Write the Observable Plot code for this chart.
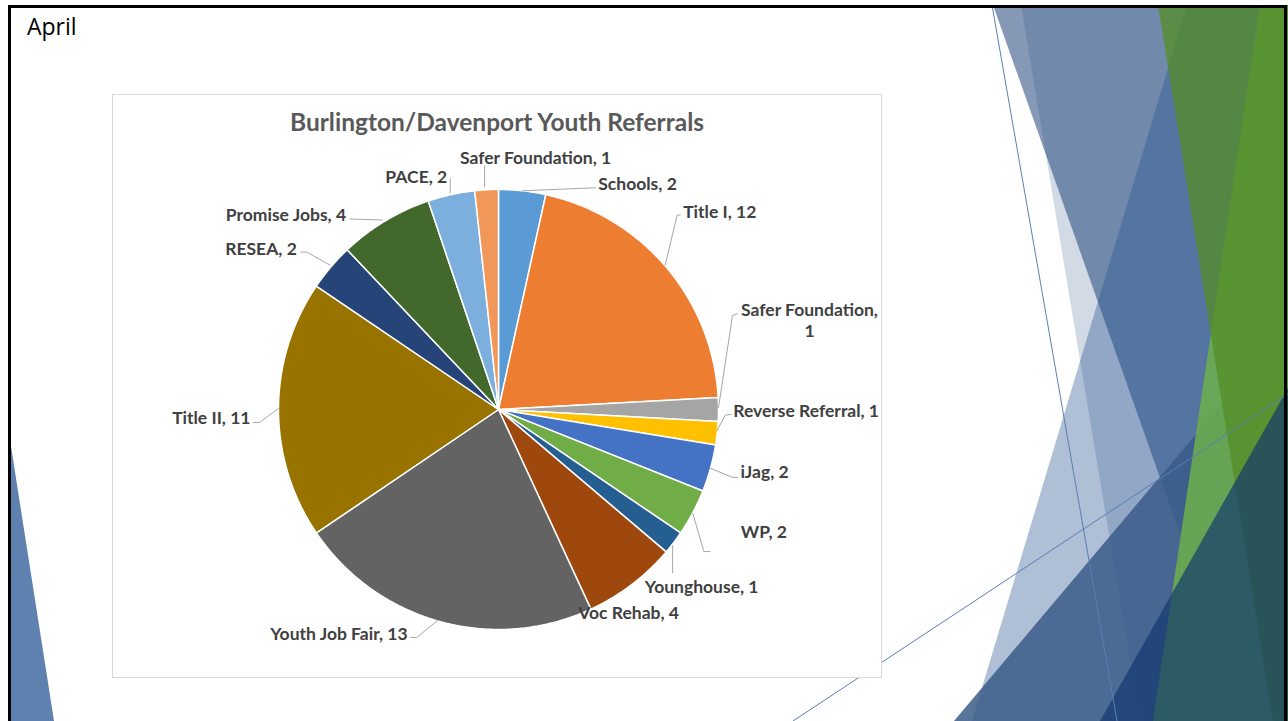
<!DOCTYPE html>
<html><head><meta charset="utf-8">
<script src="https://cdn.jsdelivr.net/npm/d3@7"></script>
<script src="https://cdn.jsdelivr.net/npm/@observablehq/plot@0.6"></script>
<style>
html,body{margin:0;padding:0;width:1288px;height:721px;overflow:hidden;background:#fff;}
#deco{position:absolute;left:0;top:0;z-index:0}
#frame{position:absolute;left:8px;top:5px;width:1273px;height:740px;border:3px solid #000;pointer-events:none;z-index:5}
#month{position:absolute;left:27px;top:10px;font:23px "Open Sans",sans-serif;color:#000;z-index:3}
#panel{position:absolute;left:112px;top:94px;width:768px;height:582px;border:1px solid #d9d9d9;background:#fff;z-index:2}
#title{position:absolute;left:0;width:768px;top:15px;text-align:center;font:bold 24.5px Lato,sans-serif;color:#595959;line-height:1}
#chart{position:absolute;left:0;top:45px;}
</style></head>
<body>
<svg id="deco" width="1288" height="721">
  <polygon points="10,440 10,721 54,721" fill="#5E81B0"/>
  <polygon points="993,5 1288,5 1288,721 1246,721" fill="#345586" fill-opacity="0.6"/>
  <polygon points="1021,5 1288,5 1288,721 1140,721" fill="#2D5689" fill-opacity="0.22"/>
  <polygon points="1187,5 1288,5 1288,721 972,721" fill="#23528F" fill-opacity="0.37"/>
  <polygon points="954,721 1288,325 1288,721" fill="#395C88" fill-opacity="0.85"/>
  <polygon points="1260,5 1288,5 1288,721 1153,721" fill="#6CAF4B" fill-opacity="0.85"/>
  <polygon points="1158,5 1288,5 1288,721 1273,721" fill="#548E26" fill-opacity="0.75"/>
  <polygon points="1100,721 1288,388 1288,721" fill="#11366D" fill-opacity="0.67"/>
  <line x1="992" y1="5" x2="1117" y2="721" stroke="#5B7FB5" stroke-width="1"/>
  <line x1="793" y1="721" x2="1288" y2="394" stroke="#5B7FB5" stroke-width="1"/>
</svg>
<div id="frame"></div>
<div id="month">April</div>
<div id="panel">
  <div id="title">Burlington/Davenport Youth Referrals</div>
  <div id="chart"></div>
</div>
<script>
// ---- data ----
const labels = ["Schools","Title I","Safer Foundation","Reverse Referral","iJag","WP","Younghouse","Voc Rehab","Youth Job Fair","Title II","RESEA","Promise Jobs","PACE","Safer Foundation"];
const values = [2,12,1,1,2,2,1,4,13,11,2,4,2,1];
const colors = ["#5B9BD5","#ED7D31","#A5A5A5","#FFC000","#4472C4","#70AD47","#255E91","#9E480E","#636363","#997300","#264478","#43682B","#7CAFDD","#F1975A"];

// ---- label layout (pixel nudges from each slice's outer mid-point) ----
const labelLayout = [
  {dx:76, dy:-8, anchor:"start", leader:[[0,0],[73,-3]]},
  {dx:17, dy:-56, anchor:"start", leader:[[-1,-2],[11,-52],[14,-52]]},
  {dx:91, dy:-90, anchor:"middle", wrap:true, leader:[[0,-2],[14,-94],[19,-96]]},
  {dx:16, dy:-23, anchor:"start", leader:[[0,-3],[8,-18],[14,-19]]},
  {dx:30, dy:3, anchor:"start", leader:[[0,0],[22,9],[27,9]]},
  {dx:48, dy:18, anchor:"start", leader:[[0,1],[11,39],[17,39]]},
  {dx:28, dy:43, anchor:"middle", leader:[[-1,3],[-1,30]]},
  {dx:-3, dy:27, anchor:"middle", leader:null},
  {dx:-32, dy:12, anchor:"end", leader:[[-2,-1],[-23,16],[-29,16]]},
  {dx:-28, dy:7, anchor:"end", leader:[[0,-1],[-19,13],[-25,13]]},
  {dx:-34, dy:-19, anchor:"end", leader:[[-1,-2],[-24,-15],[-30,-15]]},
  {dx:-39, dy:-7, anchor:"end", leader:[[-3,-1],[-35,-2]]},
  {dx:-4, dy:-19, anchor:"end", leader:[[-1,-2],[-1,-16]]},
  {dx:49, dy:-33, anchor:"middle", leader:[[-2,-3],[-2,-24]]}
];

const R = 220, W = 768, H = 537, cx = 385, cy = 269;
const arcs = d3.pie().sort(null).value(d => d)(values);

const slicePts = [];
const labelPts = [];
const leaderPts = [];
arcs.forEach((a, i) => {
  const a0 = a.startAngle, a1 = a.endAngle;
  const n = Math.max(2, Math.ceil((a1 - a0) / (Math.PI / 360)));
  slicePts.push({i, x: 0, y: 0, color: colors[i]});
  for (let k = 0; k <= n; k++) {
    const t = a0 + (a1 - a0) * k / n;
    slicePts.push({i, x: Math.sin(t), y: Math.cos(t), color: colors[i]});
  }
  const mid = (a0 + a1) / 2;
  const ex = Math.sin(mid), ey = Math.cos(mid);
  const L = labelLayout[i];
  const text = L.wrap ? `${labels[i]},\n${values[i]}` : `${labels[i]}, ${values[i]}`;
  labelPts.push({i, x: ex + L.dx / R, y: ey - L.dy / R, text, anchor: L.anchor});
  if (L.leader) L.leader.forEach(([ox, oy]) => leaderPts.push({i, x: ex + ox / R, y: ey - oy / R}));
});

const textOpts = {x: "x", y: "y", text: "text", fill: "#404040", fontSize: 17.5, fontWeight: "bold", fontFamily: "Lato, sans-serif", lineHeight: 1.25};

const chart = Plot.plot({
  width: W, height: H, margin: 0,
  x: {domain: [-cx / R, (W - cx) / R], axis: null},
  y: {domain: [-(H - cy) / R, cy / R], axis: null},
  color: {type: "identity"},
  style: {background: "transparent", overflow: "visible"},
  marks: [
    Plot.line(slicePts, {x: "x", y: "y", z: "i", fill: "color", stroke: "#fff", strokeWidth: 1.5, strokeLinejoin: "round", curve: "linear-closed"}),
    Plot.line(leaderPts, {x: "x", y: "y", z: "i", stroke: "#A6A6A6", strokeWidth: 1}),
    Plot.text(labelPts.filter(d => d.anchor === "start"), {...textOpts, textAnchor: "start"}),
    Plot.text(labelPts.filter(d => d.anchor === "middle"), {...textOpts, textAnchor: "middle"}),
    Plot.text(labelPts.filter(d => d.anchor === "end"), {...textOpts, textAnchor: "end"})
  ]
});
document.getElementById("chart").appendChild(chart);
</script>
</body></html>
